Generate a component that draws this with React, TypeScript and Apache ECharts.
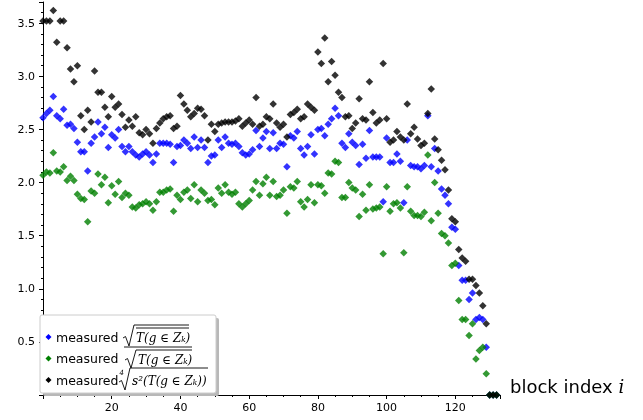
import React, { useEffect, useRef } from "react";
import * as echarts from "echarts";

// measured sqrt(mean T)  (blue)
const blueValues = [
  2.61, 2.65, 2.68, 2.81, 2.63, 2.6, 2.69, 2.54, 2.55, 2.51,
  2.38, 2.29, 2.29, 2.11, 2.37, 2.43, 2.57, 2.46, 2.52, 2.33,
  2.45, 2.42, 2.5, 2.34, 2.29, 2.34, 2.29, 2.26, 2.24, 2.27,
  2.29, 2.26, 2.19, 2.27, 2.37, 2.37, 2.37, 2.36, 2.19, 2.34,
  2.35, 2.4, 2.37, 2.32, 2.43, 2.33, 2.4, 2.33, 2.19, 2.25,
  2.26, 2.4, 2.33, 2.43, 2.37, 2.36, 2.37, 2.34, 2.28, 2.26,
  2.27, 2.31, 2.49, 2.34, 2.42, 2.48, 2.32, 2.47, 2.32, 2.37,
  2.36, 2.15, 2.44, 2.42, 2.48, 2.32, 2.26, 2.34, 2.45, 2.27,
  2.5, 2.51, 2.44, 2.55, 2.6, 2.7, 2.63, 2.37, 2.33, 2.46,
  2.38, 2.35, 2.17, 2.36, 2.23, 2.49, 2.24, 2.24, 2.24, 1.82,
  2.42, 2.19, 2.19, 2.27, 2.2, 1.81, 2.4, 2.16, 2.15, 2.15,
  2.13, 2.16, 2.63, 2.15, 2.32, 2.11, 1.94, 1.88, 1.8, 1.58,
  1.56, 1.22, 1.08, 1.08, 0.9, 0.96, 0.71, 0.73, 0.71, 0.45,
  0, 0, 0,
];

// measured mean sqrt(T)  (green)
const greenValues = [
  2.07, 2.1, 2.09, 2.28, 2.11, 2.1, 2.15, 2.02, 2.06, 2.02,
  1.89, 1.85, 1.84, 1.63, 1.92, 1.9, 2.08, 1.98, 2.05, 1.81,
  1.97, 1.89, 2.01, 1.86, 1.9, 1.88, 1.77, 1.76, 1.79, 1.8,
  1.82, 1.8, 1.74, 1.82, 1.91, 1.91, 1.93, 1.94, 1.73, 1.88,
  1.84, 1.91, 1.93, 1.85, 1.98, 1.82, 1.93, 1.9, 1.83, 1.84,
  1.79, 1.95, 1.9, 1.98, 1.91, 1.89, 1.91, 1.8, 1.77, 1.8,
  1.83, 1.93, 2.01, 1.88, 1.99, 2.05, 1.88, 2.01, 1.87, 1.88,
  1.93, 1.71, 1.96, 1.95, 2.01, 1.82, 1.77, 1.84, 1.98, 1.81,
  1.98, 1.97, 1.9, 2.09, 2.08, 2.2, 2.19, 1.86, 1.86, 2.0,
  1.95, 1.93, 1.68, 1.89, 1.74, 1.98, 1.75, 1.76, 1.77, 1.33,
  1.96, 1.73, 1.8, 1.81, 1.76, 1.34, 1.96, 1.73, 1.69, 1.69,
  1.68, 1.72, 2.26, 1.64, 2.0, 1.71, 1.52, 1.5, 1.43, 1.22,
  1.24, 0.89, 0.71, 0.71, 0.56, 0.67, 0.34, 0.42, 0.45, 0.2,
  0, 0, 0,
];

// measured fourth root of s^2(T)  (black)
const blackValues = [
  3.52, 3.52, 3.52, 3.62, 3.32, 3.52, 3.52, 3.27, 3.07, 2.95,
  3.1, 2.63, 2.5, 2.68, 2.57, 3.05, 2.85, 2.85, 2.71, 2.62,
  2.81, 2.71, 2.74, 2.64, 2.52, 2.59, 2.53, 2.62, 2.47, 2.45,
  2.5, 2.46, 2.37, 2.51, 2.56, 2.6, 2.62, 2.63, 2.51, 2.53,
  2.82, 2.74, 2.68, 2.62, 2.65, 2.7, 2.69, 2.63, 2.4, 2.55,
  2.48, 2.55, 2.56, 2.57, 2.57, 2.57, 2.58, 2.6, 2.53, 2.56,
  2.59, 2.55, 2.8, 2.53, 2.55, 2.62, 2.6, 2.74, 2.56, 2.52,
  2.55, 2.43, 2.64, 2.66, 2.69, 2.6, 2.62, 2.74, 2.71, 2.68,
  3.23, 3.12, 3.36, 2.95, 3.14, 3.01, 2.85, 2.8, 2.62, 2.63,
  2.51, 2.56, 2.79, 2.6, 2.59, 2.95, 2.66, 2.56, 2.59, 3.12,
  2.6, 2.38, 2.4, 2.48, 2.43, 2.4, 2.74, 2.46, 2.52, 2.41,
  2.35, 2.37, 2.65, 2.88, 2.41, 2.31, 2.21, 2.12, 1.93, 1.66,
  1.63, 1.37, 1.29, 1.26, 1.09, 1.09, 1.03, 0.96, 0.84, 0.67,
  0, 0, 0,
];

const xTickLabels = [20, 40, 60, 80, 100, 120];
const yTickLabels = [0.5, 1.0, 1.5, 2.0, 2.5, 3.0, 3.5];

const toPoints = (arr: number[]) => arr.map((v, i) => [i, v]);

export default function App() {
  const ref = useRef<HTMLDivElement>(null);

  useEffect(() => {
    if (!ref.current) return;
    const chart = echarts.init(ref.current, null, { renderer: "svg" });
    const font = "DejaVu Sans";
    const serif = "DejaVu Serif";
    const diamond = (cx: number, cy: number, color: string) => ({
      type: "polygon",
      shape: { points: [[cx, cy - 3], [cx + 3, cy], [cx, cy + 3], [cx - 3, cy]] },
      style: { fill: color },
      z: 101,
    });
    const line = (x1: number, y1: number, x2: number, y2: number) => ({
      type: "line",
      shape: { x1, y1, x2, y2 },
      style: { stroke: "#000", lineWidth: 0.9 },
      z: 101,
    });
    const radical = (pts: number[][]) => ({
      type: "polyline",
      shape: { points: pts },
      style: { stroke: "#000", lineWidth: 0.9, fill: "none" },
      z: 101,
    });
    const txt = (x: number, y: number, text: string, size: number, family: string, italic = false) => ({
      type: "text",
      x,
      y,
      style: {
        text,
        fontSize: size,
        fontFamily: family,
        fontStyle: italic ? "italic" : "normal",
        fill: "#000",
        verticalAlign: "middle",
        align: "left",
      },
      z: 101,
    });

    chart.setOption({
      animation: false,
      grid: { left: 43, right: 143, top: 2, bottom: 25, containLabel: false },
      xAxis: {
        type: "value",
        min: 0,
        max: 133,
        interval: 20,
        axisLine: { show: true, onZero: false, lineStyle: { color: "#000", width: 1 } },
        axisTick: { show: true, length: 4, lineStyle: { color: "#000" } },
        minorTick: { show: true, splitNumber: 4, length: 2, lineStyle: { color: "#000" } },
        splitLine: { show: false },
        axisLabel: {
          color: "#000",
          fontFamily: font,
          fontSize: 11,
          margin: 7,
          showMaxLabel: false,
          formatter: (v: number) => (xTickLabels.includes(v) ? String(v) : ""),
        },
      },
      yAxis: {
        type: "value",
        min: 0,
        max: 3.7,
        interval: 0.5,
        axisLine: { show: true, onZero: false, lineStyle: { color: "#000", width: 1 } },
        axisTick: { show: true, length: 4, lineStyle: { color: "#000" } },
        minorTick: { show: true, splitNumber: 5, length: 2, lineStyle: { color: "#000" } },
        splitLine: { show: false },
        axisLabel: {
          color: "#000",
          fontFamily: font,
          fontSize: 11,
          margin: 8,
          showMaxLabel: false,
          formatter: (v: number) => {
            const r = Math.round(v * 10) / 10;
            return yTickLabels.includes(r) && Math.abs(r - v) < 1e-6 ? r.toFixed(1) : "";
          },
        },
      },
      series: [
        {
          name: "blue",
          type: "scatter",
          symbol: "diamond",
          symbolSize: 7.5,
          clip: false,
          itemStyle: { color: "#0000ff" },
          data: toPoints(blueValues),
        },
        {
          name: "green",
          type: "scatter",
          symbol: "diamond",
          symbolSize: 7.5,
          clip: false,
          itemStyle: { color: "#008000" },
          data: toPoints(greenValues),
        },
        {
          name: "black",
          type: "scatter",
          symbol: "diamond",
          symbolSize: 7.5,
          clip: false,
          itemStyle: { color: "#000000" },
          data: toPoints(blackValues),
        },
      ],
      graphic: [
        {
          type: "text",
          x: 510,
          y: 386,
          style: {
            text: "block index {i|i}",
            fontSize: 18,
            fontFamily: font,
            fill: "#000",
            verticalAlign: "middle",
            rich: { i: { fontSize: 18, fontFamily: serif, fontStyle: "italic", fill: "#000" } },
          },
        },
        {
          type: "rect",
          shape: { x: 43, y: 318, width: 176, height: 78, r: 2 },
          style: { fill: "#b8b8b8" },
          z: 100,
        },
        {
          type: "rect",
          shape: { x: 40, y: 315, width: 176, height: 78, r: 2 },
          style: { fill: "#fff", stroke: "#cccccc", lineWidth: 1 },
          z: 100,
        },
        // row 1
        diamond(48.5, 337, "#0000ff"),
        txt(56, 337, "measured", 12.5, font),
        radical([[123, 338], [125.5, 336.5], [129, 346], [134, 325], [189, 325]]),
        line(136, 328, 189, 328),
        txt(136, 338, "T(g ∈ Zₖ)", 12, serif, true),
        // row 2
        diamond(48.5, 358.5, "#008000"),
        txt(56, 358.5, "measured", 12.5, font),
        line(124, 347, 192, 347),
        radical([[125, 360], [127.5, 358.5], [131, 368], [136, 350], [192, 350]]),
        txt(138, 360, "T(g ∈ Zₖ)", 12, serif, true),
        // row 3
        diamond(48.5, 380, "#000000"),
        txt(56, 380, "measured", 12.5, font),
        txt(119.5, 373, "4", 7, serif, true),
        radical([[119, 382], [121.5, 380.5], [125, 390], [130, 368], [208, 368]]),
        txt(132, 381, "s²(T(g ∈ Zₖ))", 12, serif, true),
      ],
    });
    return () => chart.dispose();
  }, []);

  return (
    <div
      ref={ref}
      style={{ position: "fixed", left: 0, top: 0, width: 643, height: 420 }}
    />
  );
}
